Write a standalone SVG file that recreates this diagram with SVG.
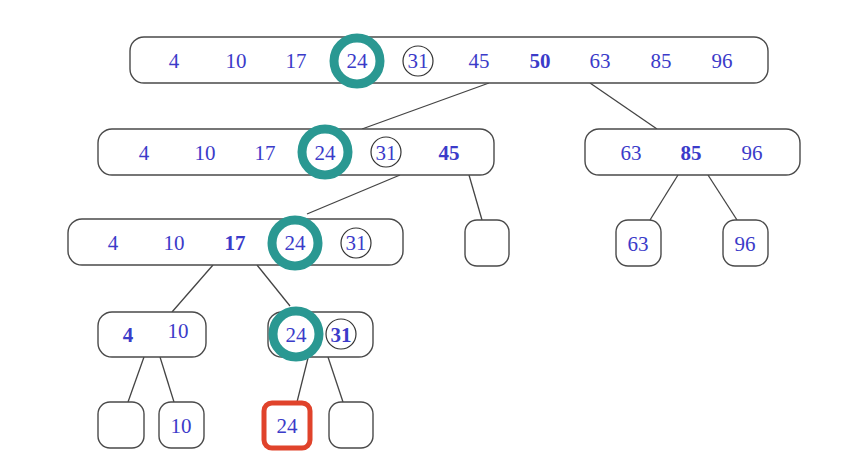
<svg xmlns="http://www.w3.org/2000/svg" width="844" height="466" viewBox="0 0 844 466">
<style>
.box{fill:#fff;stroke:#4a4a4a;stroke-width:1.4}
.t{font-family:"Liberation Serif",serif;font-size:21px;fill:#3b3bc9;text-anchor:middle}
.b{font-weight:bold}
.hl{fill:none;stroke:#2a9892;stroke-width:9}
.c{fill:none;stroke:#333;stroke-width:1.2}
.e{stroke:#444;stroke-width:1.3;fill:none}
.red{fill:#fff;stroke:#e0432b;stroke-width:5}
</style>
<rect width="844" height="466" fill="#fff"/>
<g id="connectors">
<line class="e" x1="489" y1="83" x2="362" y2="129"/>
<line class="e" x1="590" y1="83" x2="657" y2="129"/>
<line class="e" x1="400" y1="175" x2="307" y2="214"/>
<line class="e" x1="469" y1="175" x2="482" y2="220"/>
<line class="e" x1="678" y1="175" x2="650" y2="220"/>
<line class="e" x1="708" y1="175" x2="737" y2="220"/>
<line class="e" x1="213" y1="265" x2="172" y2="312"/>
<line class="e" x1="257" y1="265" x2="290" y2="306"/>
<line class="e" x1="144" y1="357" x2="128" y2="402"/>
<line class="e" x1="160" y1="357" x2="174" y2="402"/>
<line class="e" x1="308" y1="358" x2="297" y2="402"/>
<line class="e" x1="328" y1="357" x2="343" y2="402"/>
</g>
<g id="root">
<rect class="box" x="130" y="37" width="638" height="46" rx="14"/>
<text class="t" x="174" y="68">4</text>
<text class="t" x="236" y="68">10</text>
<text class="t" x="296" y="68">17</text>
<text class="t" x="357" y="68">24</text>
<text class="t" x="418" y="68">31</text>
<text class="t" x="479" y="68">45</text>
<text class="t b" x="540" y="68">50</text>
<text class="t" x="600" y="68">63</text>
<text class="t" x="661" y="68">85</text>
<text class="t" x="722" y="68">96</text>
<circle class="hl" cx="357" cy="61" r="23"/>
<circle class="c" cx="418" cy="61" r="15"/>
</g>
<g id="l2left">
<rect class="box" x="98" y="129" width="396" height="46" rx="14"/>
<text class="t" x="144" y="160">4</text>
<text class="t" x="205" y="160">10</text>
<text class="t" x="265" y="160">17</text>
<text class="t" x="325" y="160">24</text>
<text class="t" x="386" y="160">31</text>
<text class="t b" x="449" y="160">45</text>
<circle class="hl" cx="325" cy="152" r="23"/>
<circle class="c" cx="386" cy="152" r="15"/>
</g>
<g id="l2right">
<rect class="box" x="585" y="129" width="215" height="46" rx="14"/>
<text class="t" x="631" y="160">63</text>
<text class="t b" x="691" y="160">85</text>
<text class="t" x="752" y="160">96</text>
</g>
<g id="l3">
<rect class="box" x="68" y="219" width="335" height="46" rx="14"/>
<text class="t" x="113" y="250">4</text>
<text class="t" x="174" y="250">10</text>
<text class="t b" x="235" y="250">17</text>
<text class="t" x="295" y="250">24</text>
<text class="t" x="356" y="250">31</text>
<circle class="hl" cx="295" cy="243" r="23"/>
<circle class="c" cx="356" cy="243" r="15"/>
</g>
<g id="leafEmpty1">
<rect class="box" x="465" y="220" width="44" height="46" rx="12"/>
</g>
<g id="leaf63">
<rect class="box" x="616" y="220" width="45" height="46" rx="12"/>
<text class="t" x="638" y="251">63</text>
</g>
<g id="leaf96">
<rect class="box" x="723" y="220" width="45" height="46" rx="12"/>
<text class="t" x="745" y="251">96</text>
</g>
<g id="l4left">
<rect class="box" x="98" y="312" width="108" height="45" rx="14"/>
<text class="t b" x="128" y="342">4</text>
<text class="t" x="178" y="338">10</text>
</g>
<g id="l4right">
<rect class="box" x="268" y="312" width="105" height="45" rx="14"/>
<text class="t" x="296" y="342">24</text>
<text class="t b" x="341" y="342">31</text>
<circle class="hl" cx="296" cy="334" r="23"/>
<circle class="c" cx="341" cy="334" r="15"/>
</g>
<g id="leafEmpty2">
<rect class="box" x="98" y="402" width="46" height="46" rx="12"/>
</g>
<g id="leaf10">
<rect class="box" x="159" y="402" width="45" height="46" rx="12"/>
<text class="t" x="181" y="433">10</text>
</g>
<g id="leaf24">
<rect class="red" x="264" y="403" width="46" height="45" rx="8"/>
<text class="t" x="287" y="433">24</text>
</g>
<g id="leafEmpty3">
<rect class="box" x="329" y="402" width="44" height="46" rx="12"/>
</g>
</svg>
